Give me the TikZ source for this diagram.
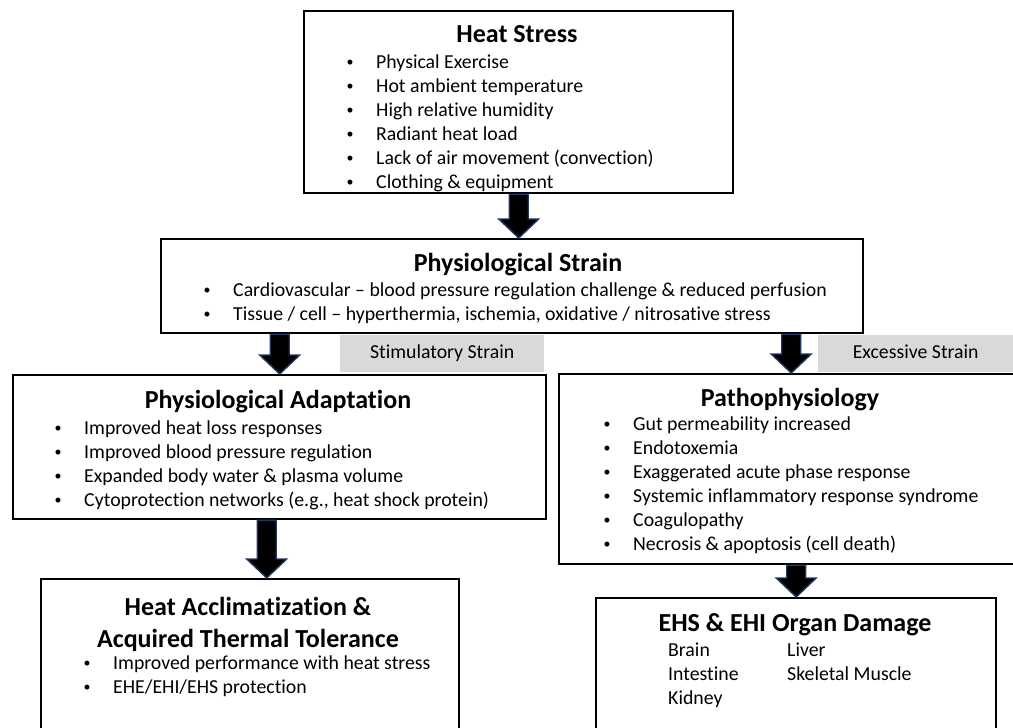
\documentclass[tikz,border=0pt]{standalone}
\usepackage{fontspec}
\setmainfont{Carlito}[Ligatures=NoCommon]
\usetikzlibrary{calc}

\definecolor{arrowedge}{HTML}{1F3864}
\definecolor{labelgray}{HTML}{D9D9D9}

\tikzset{
  panel/.style={draw=black, line width=2.4pt, fill=white, rectangle,
                inner sep=0pt, anchor=north west},
  tag/.style={fill=labelgray, rectangle, inner sep=0pt, anchor=north west,
              font=\fontsize{19.8}{24}\selectfont, text height=13pt, text depth=4pt},
  heading/.style={font=\fontsize{26}{30}\selectfont\bfseries, inner sep=0pt, anchor=base},
  entry/.style={font=\fontsize{19.8}{24}\selectfont, inner sep=0pt, anchor=base west},
  flow/.style={fill=black, draw=arrowedge, line width=1.4pt, line join=miter},
}

% one bulleted line: a small bullet sits 26pt left of the text start
\newcommand{\bul}[1]{\llap{\makebox[52pt][c]{\fontsize{14}{14}\selectfont\raisebox{1.6pt}{\textbullet}}}#1}

% a list of bulleted lines: name, text x, first baseline y, items
\newcommand{\bulletlist}[4]{%
  \foreach \t [count=\i from 0] in {#4}{%
    \node[entry] (#1-\i) at (#2, {#3+24.1*\i}) {\bul{\t}};
  }%
}

% block arrow from a point down to a point straight below it
\newcommand{\blockarrow}[2]{%
  \path[flow] let \p1=(#1), \p2=(#2) in
    (\x1-9.5pt,\y1) -- (\x1+9.5pt,\y1) -- (\x1+9.5pt,\y2+19pt)
    -- (\x1+20pt,\y2+19pt) -- (\x1,\y2) -- (\x1-20pt,\y2+19pt)
    -- (\x1-9.5pt,\y2+19pt) -- cycle;
}

\begin{document}
\begin{tikzpicture}[x=1pt, y=-1pt]
  \useasboundingbox (0,0) rectangle (1013,728);
  \clip (0,0) rectangle (1013,728);
  \fill[white] (0,0) rectangle (1013,728);

  % ---- Heat stress ----
  \node[panel, minimum width=429pt, minimum height=182pt] (hs) at (303,10) {};
  \node[heading] (hs-t) at (517,42) {Heat Stress};
  \bulletlist{hs}{376}{68}{Physical Exercise, Hot ambient temperature,
    High relative humidity, Radiant heat load,
    Lack of air movement (convection), Clothing \& equipment}

  % ---- Physiological strain ----
  \node[panel, minimum width=702pt, minimum height=94pt] (ps) at (160,238) {};
  \node[heading] (ps-t) at (518,271) {Physiological Strain};
  \bulletlist{ps}{233}{296}{Cardiovascular – blood pressure regulation challenge \& reduced perfusion,
    {Tissue / cell – hyperthermia, ischemia, oxidative / nitrosative stress}}

  % ---- strain labels ----
  \node[tag, minimum width=204pt, minimum height=37pt] (stim) at (340,335) {Stimulatory Strain};
  \node[tag, minimum width=195pt, minimum height=37pt] (exc) at (818,335) {Excessive Strain};

  % ---- Physiological adaptation ----
  \node[panel, minimum width=533pt, minimum height=144pt] (pa) at (12,374) {};
  \node[heading] (pa-t) at (278,408) {Physiological Adaptation};
  \bulletlist{pa}{84}{434}{Improved heat loss responses,
    Improved blood pressure regulation,
    Expanded body water \& plasma volume,
    {Cytoprotection networks (e.g., heat shock protein)}}

  % ---- Pathophysiology ----
  \node[panel, minimum width=464pt, minimum height=190pt] (pp) at (558,373) {};
  \node[heading] (pp-t) at (790,406) {Pathophysiology};
  \bulletlist{pp}{633}{430}{Gut permeability increased, Endotoxemia,
    Exaggerated acute phase response,
    Systemic inflammatory response syndrome,
    Coagulopathy, Necrosis \& apoptosis (cell death)}

  % ---- Heat acclimatization ----
  \node[panel, minimum width=418pt, minimum height=200pt] (ha) at (40,578) {};
  \node[heading] (ha-t1) at (248,615) {Heat Acclimatization \&};
  \node[heading] (ha-t2) at (248,647) {Acquired Thermal Tolerance};
  \bulletlist{ha}{113}{669}{Improved performance with heat stress,
    EHE/EHI/EHS protection}

  % ---- Organ damage ----
  \node[panel, minimum width=400pt, minimum height=180pt] (eh) at (595,597) {};
  \node[heading] (eh-t) at (795,631) {EHS \& EHI Organ Damage};
  \node[entry] (eh-brain) at (668,656) {Brain};
  \node[entry] (eh-int)   at (668,680) {Intestine};
  \node[entry] (eh-kid)   at (668,704) {Kidney};
  \node[entry] (eh-liv)   at (787,656) {Liver};
  \node[entry] (eh-musc)  at (787,680) {Skeletal Muscle};

  % ---- connectors ----
  \blockarrow{hs.south}{hs.south |- ps.north}
  \blockarrow{pa.north |- ps.south}{pa.north}
  \blockarrow{pp.north |- ps.south}{pp.north}
  \blockarrow{[xshift=-13pt]pa.south}{[xshift=-13pt]pa.south |- ha.north}
  \blockarrow{pp.south -| eh.north}{eh.north}
\end{tikzpicture}
\end{document}
